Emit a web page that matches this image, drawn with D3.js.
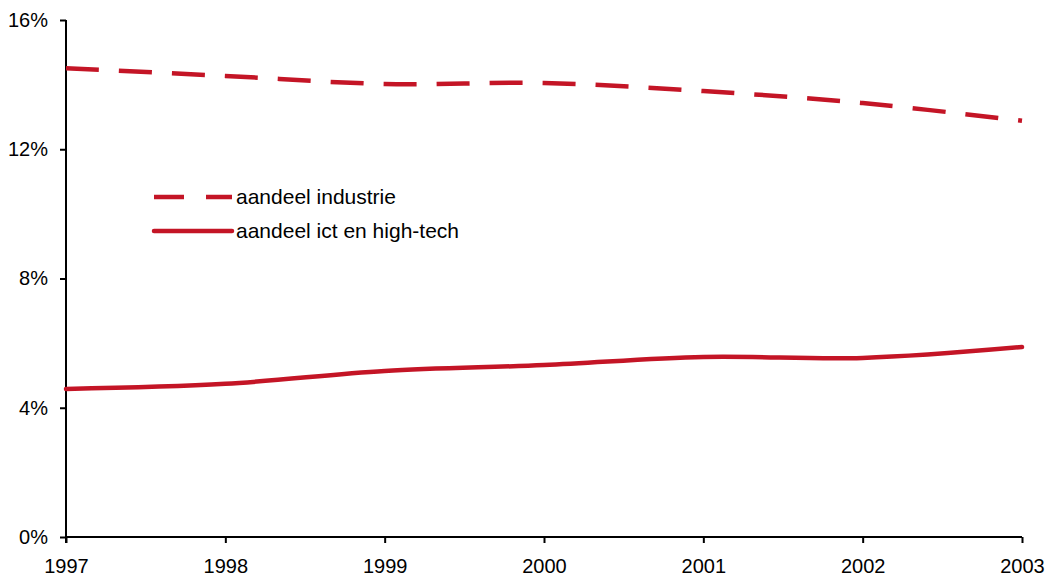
<!DOCTYPE html>
<html>
<head>
<meta charset="utf-8">
<script src="https://cdn.jsdelivr.net/npm/d3@7"></script>
<style>
  body { margin: 0; background: #fff; }
  text { font-family: "Liberation Sans", Arial, sans-serif; }
</style>
</head>
<body>
<svg id="chart"></svg>
<script>
var years = [1997, 1998, 1999, 2000, 2001, 2002, 2003];
var industrie = [14.51, 14.27, 14.02, 14.05, 13.80, 13.43, 12.88];
var ictHighTech = [4.58, 4.74, 5.14, 5.32, 5.57, 5.54, 5.88];
var yTicks = [0, 4, 8, 12, 16];
var seriesNames = ["aandeel industrie", "aandeel ict en high-tech"];

var width = 1046, height = 578;
var plotLeft = 66, plotRight = 1022, plotTop = 20, plotBottom = 537;
var red = "#c41526";

var svg = d3.select("#chart").attr("width", width).attr("height", height);

var x = d3.scalePoint().domain(years).range([plotLeft, plotRight]);
var y = d3.scaleLinear().domain([0, 16]).range([plotBottom, plotTop]);

// y axis
var yAxis = svg.append("g")
    .attr("transform", "translate(" + plotLeft + ",0)")
    .call(d3.axisLeft(y).tickValues(yTicks).tickSize(6).tickPadding(12).tickFormat(d => d + "%"));
yAxis.select(".domain").attr("stroke", "#000").attr("stroke-width", 2).attr("d", "M0," + (plotBottom + 6) + "V" + plotTop);
yAxis.selectAll(".tick line").attr("stroke-width", 2);
yAxis.selectAll(".tick text").attr("font-size", 20).attr("fill", "#000");

// x axis
var xAxis = svg.append("g")
    .attr("transform", "translate(0," + plotBottom + ")")
    .call(d3.axisBottom(x).tickSize(6).tickPadding(16));
xAxis.select(".domain").attr("stroke", "#000").attr("stroke-width", 2).attr("d", "M" + plotLeft + ",0H" + plotRight);
xAxis.selectAll(".tick line").attr("stroke-width", 2);
xAxis.selectAll(".tick text").attr("font-size", 20).attr("fill", "#000");

var line = d3.line()
    .x((d, i) => x(years[i]))
    .y(d => y(d))
    .curve(d3.curveCatmullRom.alpha(0.5));

svg.append("path")
    .datum(industrie)
    .attr("d", line)
    .attr("fill", "none")
    .attr("stroke", red)
    .attr("stroke-width", 4.5)
    .attr("stroke-dasharray", "33,20");

svg.append("path")
    .datum(ictHighTech)
    .attr("d", line)
    .attr("fill", "none")
    .attr("stroke", red)
    .attr("stroke-width", 4.5)
    .attr("stroke-linecap", "round");

// legend
var legend = svg.append("g");
var legendRows = [
  { name: seriesNames[0], y: 197, dash: "30,22" },
  { name: seriesNames[1], y: 231, dash: null }
];
legendRows.forEach(function (r) {
    legend.append("line")
        .attr("x1", 154).attr("x2", 232)
        .attr("y1", r.y).attr("y2", r.y)
        .attr("stroke", red).attr("stroke-width", 4.5)
        .attr("stroke-linecap", r.dash ? "butt" : "round")
        .attr("stroke-dasharray", r.dash);
    legend.append("text")
        .attr("x", 236).attr("y", r.y)
        .attr("dy", "0.35em")
        .attr("font-size", 21)
        .attr("fill", "#000")
        .text(r.name);
});
</script>
</body>
</html>
